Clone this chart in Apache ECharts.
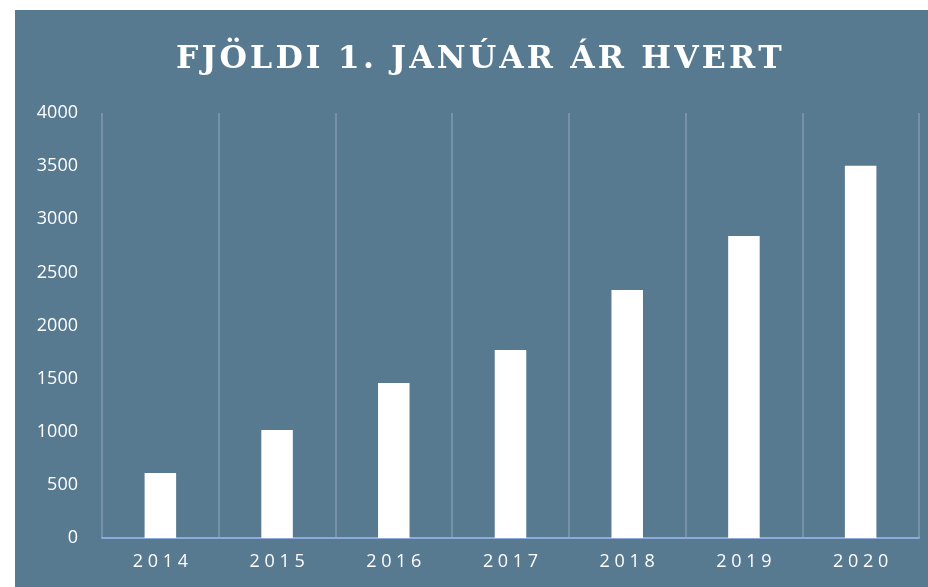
<!DOCTYPE html>
<html>
<head>
<meta charset="utf-8">
<title>Fjöldi 1. janúar ár hvert</title>
<script src="https://cdn.jsdelivr.net/npm/echarts@6/dist/echarts.min.js"></script>
<style>
  html, body { margin: 0; height: 100%; background: #fff; }
  #chart { position: absolute; left: 15px; top: 10px; width: 913px; height: 577px; background: #587a91; }
</style>
</head>
<body>
<div id="chart"></div>
<script>
// gögn
var years = ['2014', '2015', '2016', '2017', '2018', '2019', '2020'];
var counts = [612, 1017, 1460, 1770, 2335, 2843, 3503];
var titleText = 'FJÖLDI 1. JANÚAR ÁR HVERT';

// dreifa stöfum (letter spacing)
function spread(s, sep) {
    return s.split('').join(sep);
}

var myChart = echarts.init(document.getElementById('chart'));
var option = {
    backgroundColor: '#587a91',
    animation: false,
    title: {
        text: spread(titleText, '\u200A'),
        left: 156,
        top: 29,
        textStyle: {
            color: '#fff',
            fontFamily: 'DejaVu Serif',
            fontWeight: 'bold',
            fontSize: 31.5
        }
    },
    grid: { left: 87, right: 9, top: 103, bottom: 49 },
    xAxis: {
        type: 'category',
        data: years,
        boundaryGap: true,
        axisLine: { lineStyle: { color: '#8eaadb', width: 2 } },
        axisTick: { show: false },
        axisLabel: {
            color: '#fff',
            fontFamily: 'Open Sans',
            fontSize: 18,
            margin: 15,
            formatter: function (v) { return spread(v, ' '); }
        },
        splitLine: { show: true, lineStyle: { color: '#7f9bb0', width: 1.5 } }
    },
    yAxis: {
        type: 'value',
        min: 0,
        max: 4000,
        interval: 500,
        axisLine: { show: false },
        axisTick: { show: false },
        splitLine: { show: false },
        axisLabel: {
            color: '#fff',
            fontFamily: 'Open Sans',
            fontSize: 18,
            margin: 24,
            formatter: function (v) { return String(v); }
        }
    },
    series: [{
        type: 'bar',
        data: counts,
        barWidth: '27%',
        itemStyle: { color: '#ffffff' }
    }]
};
myChart.setOption(option);
</script>
</body>
</html>
